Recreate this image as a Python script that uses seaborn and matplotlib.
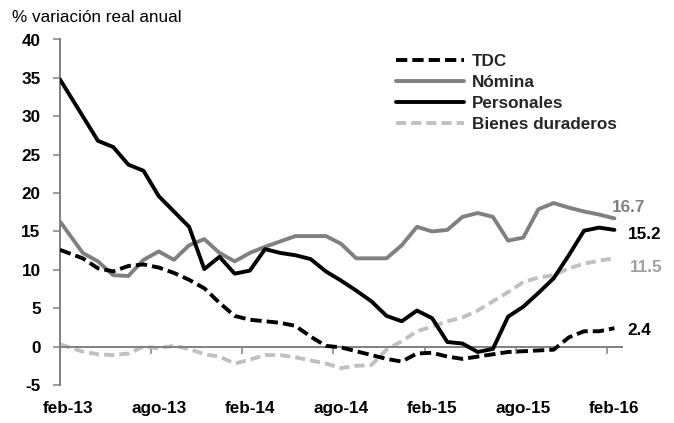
import seaborn as sns
import matplotlib.pyplot as plt
import numpy as np

# % variacion real anual, monthly feb-13 .. feb-16
tdc = [12.6, 11.5, 10.2, 9.8, 10.5, 10.7, 10.3, 9.6, 8.7, 7.6, 5.7, 4.0, 3.5,
       3.3, 3.1, 2.7, 1.3, 0.1, -0.1, -0.6, -1.1, -1.6, -1.95, -0.9, -0.8,
       -1.3, -1.6, -1.3, -1.0, -0.7, -0.6, -0.5, -0.4, 1.2, 2.0, 2.0, 2.4]
nomina = [16.3, 12.2, 11.1, 9.3, 9.2, 11.3, 12.4, 11.3, 13.2, 14.0, 12.2, 11.1,
          12.2, 13.0, 13.7, 14.4, 14.4, 14.4, 13.4, 11.5, 11.5, 11.5, 13.2, 15.6,
          15.0, 15.2, 16.9, 17.4, 16.9, 13.8, 14.2, 17.9, 18.7, 18.1, 17.6, 17.2, 16.7]
personales = [34.8, 30.0, 26.8, 26.0, 23.7, 22.9, 19.6, 17.6, 15.6, 10.1, 11.7, 9.5,
              9.9, 12.7, 12.2, 11.9, 11.4, 9.8, 8.6, 7.3, 5.9, 4.0, 3.3, 4.7, 3.7,
              0.6, 0.4, -0.7, -0.3, 3.9, 5.2, 7.0, 8.9, 11.9, 15.1, 15.5, 15.2]
bienes = [0.3, -0.65, -1.0, -1.1, -0.9, 0.0, -0.2, 0.1, -0.3, -1.0, -1.3, -2.2,
          -1.7, -1.1, -1.1, -1.4, -1.8, -2.2, -2.8, -2.5, -2.4, -0.4, 0.7, 2.0,
          2.6, 3.3, 3.8, 4.7, 5.9, 7.1, 8.4, 9.0, 9.3, 10.2, 10.8, 11.2, 11.5]

tick_labels = ['feb-13', 'ago-13', 'feb-14', 'ago-14', 'feb-15', 'ago-15', 'feb-16']

sns.set_theme(style='white')
plt.rcParams['font.family'] = ['Liberation Sans', 'DejaVu Sans']
FS = 12.3

# readings sit mid-month on a date axis; first one starts at the axis edge
n = len(tdc)
pos = np.arange(n) + 0.5
pos[0] = 0.0

fig = plt.figure(figsize=(6.74, 4.23), dpi=100)
ax = fig.add_axes([60 / 674, 1 - 385 / 423, (622 - 60) / 674, (385 - 39.5) / 423])

# x axis line crosses at zero (do this first: moving a spine resets the ticks)
for s in ['top', 'right']:
    ax.spines[s].set_visible(False)
for s in ['left', 'bottom']:
    ax.spines[s].set_color('#808080')
    ax.spines[s].set_linewidth(1.4)
ax.spines['bottom'].set_position(('data', 0))

series = [
    ('TDC', tdc, 'black', (0, (2.9, 1.3)), 3, 'black', (9.4, -1.7)),
    ('Nómina', nomina, '#808080', '-', 2, '#808080', (-1.5, 8)),
    ('Personales', personales, 'black', '-', 4, 'black', (9.4, -3.6)),
    ('Bienes duraderos', bienes, '#c0c0c0', (0, (2.6, 1.3)), 1, '#a0a0a0', (10.8, -6.3)),
]

handles = []
for name, vals, col, ls, z, lab_col, off in series:
    sns.lineplot(x=pos, y=vals, ax=ax, color=col, linestyle=ls, lw=2.8,
                 sort=False, zorder=z)
    line = ax.lines[-1]
    handles.append((line, name))
    ax.annotate(f'{vals[-1]:.1f}', xy=(pos[-1], vals[-1]), xytext=off,
                textcoords='offset points', ha='left', va='center',
                fontsize=FS, fontweight='bold', color=lab_col)

ax.set_xlim(0, 37)
ax.set_ylim(-5, 40)
ax.set_yticks(np.arange(-5, 41, 5))
ax.set_yticklabels([str(v) for v in range(-5, 41, 5)], fontsize=FS,
                   fontweight='bold', color='black')

# labels centred on the mid-month readings, tick marks at month starts
ax.set_xticks(np.arange(0, 37, 6) + 0.5)
ax.set_xticklabels(tick_labels, fontsize=FS, fontweight='bold', color='black')
ax.tick_params(axis='x', which='major', length=0, pad=39)
ax.set_xticks(np.arange(0, 37, 6), minor=True)
ax.tick_params(axis='x', which='minor', direction='out', length=5, width=1.1,
               color='#808080', bottom=True)
ax.tick_params(axis='y', direction='out', length=5, width=1.1, color='#808080',
               pad=9, left=True)

ax.legend([h for h, _ in handles], [t for _, t in handles], loc='upper left',
          bbox_to_anchor=(396 / 674, 1 - 54 / 423), bbox_transform=fig.transFigure,
          frameon=False, handlelength=4.0, handletextpad=0.45, labelspacing=0.36,
          borderaxespad=0, borderpad=0, prop={'size': FS, 'weight': 'bold'})

fig.text(12 / 674, 1 - 17 / 423, '% variación real anual', fontsize=FS,
         ha='left', va='center', color='black')

fig.savefig('out.png', dpi=100, facecolor='white')
